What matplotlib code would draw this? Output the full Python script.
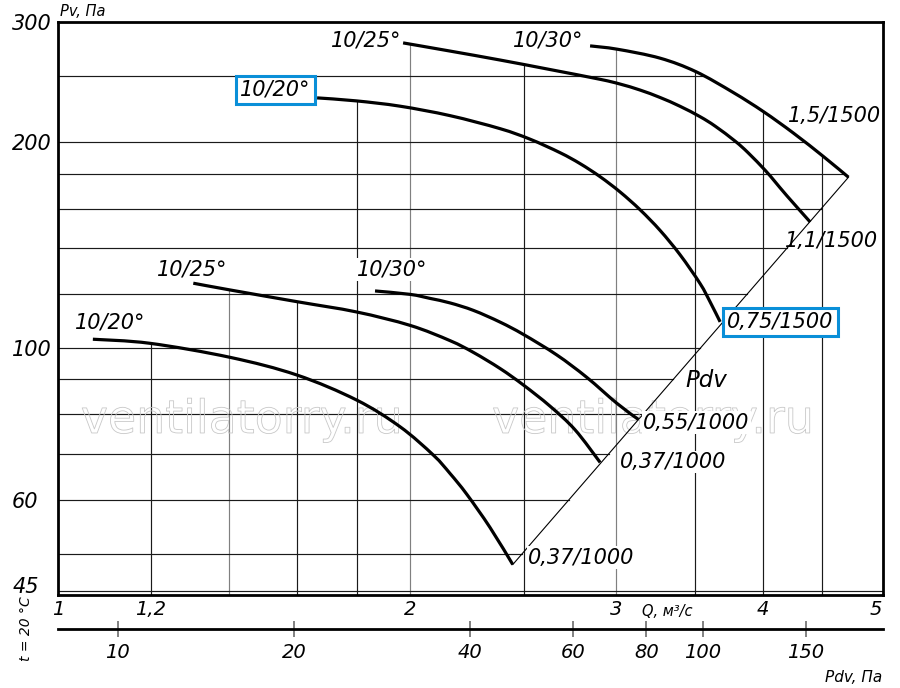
import numpy as np
import matplotlib
matplotlib.use("Agg")
import matplotlib.pyplot as plt
import matplotlib.patheffects as pe
from matplotlib.path import Path
from matplotlib.patches import PathPatch
from matplotlib.ticker import NullLocator

# ---------------- data ----------------
# 1500 rpm curves
q_a = [1.665, 1.797, 1.960, 2.163, 2.387, 2.532, 2.686, 2.794, 2.906, 3.022, 3.144, 3.270, 3.401, 3.538, 3.608, 3.680]
p_a = [232.3, 230.0, 225.9, 218.8, 209.4, 202.1, 193.1, 186.1, 178.1, 169.2, 159.3, 148.6, 136.9, 124.2, 116.8, 109.2]
q_b = [1.972, 2.163, 2.387, 2.633, 2.906, 3.022, 3.144, 3.270, 3.401, 3.538, 3.644, 3.790, 3.888, 4.021, 4.100, 4.198, 4.393]
p_b = [279.6, 272.0, 263.9, 255.6, 247.3, 243.4, 238.5, 232.6, 225.8, 218.0, 211.2, 200.8, 193.1, 182.0, 175.1, 166.9, 152.9]
q_c = [2.849, 3.006, 3.269, 3.508, 3.777, 4.007, 4.251, 4.510, 4.737]
p_c = [276.8, 273.7, 265.6, 253.8, 236.5, 221.8, 206.3, 190.6, 177.8]
# 1000 rpm curves
q_d = [1.071, 1.198, 1.403, 1.600, 1.800, 1.960, 2.093, 2.163, 2.235, 2.340, 2.447]
p_d = [103.0, 101.6, 96.9, 91.3, 83.9, 76.7, 69.7, 65.5, 61.1, 54.6, 48.2]
q_e = [1.305, 1.403, 1.600, 1.800, 2.000, 2.163, 2.265, 2.387, 2.498, 2.633, 2.766, 2.906]
p_e = [124.4, 121.6, 116.9, 112.9, 107.9, 102.5, 98.5, 93.3, 88.3, 82.2, 75.9, 68.0]
q_f = [1.866, 2.000, 2.079, 2.163, 2.265, 2.387, 2.498, 2.668, 2.830, 3.003, 3.133]
p_f = [121.2, 119.8, 118.2, 116.4, 113.5, 109.1, 104.7, 97.7, 90.6, 83.0, 78.6]

q_ticks = [1, 1.2, 2, 3, 4, 5]
q_tick_labels = ["1", "1,2", "2", "3", "4", "5"]
p_ticks = [45, 60, 100, 200, 300]
p_tick_labels = ["45", "60", "100", "200", "300"]
grid_q = [1.2, 1.4, 1.6, 1.8, 2.0, 2.5, 3.0, 3.5, 4.0, 4.5]
grid_q_gray = [1.4, 2.0, 3.0]
grid_p = [44.1, 50, 60, 70, 80, 90, 100, 120, 140, 160, 180, 200, 250]
pdv_ticks = [10, 20, 40, 60, 80, 100, 150]
PDV_COEF = 7.9  # Pdv = PDV_COEF * Q^2

XMIN, XMAX = 1.0, 5.07
YMIN, YMAX = 43.5, 300.0

# ---------------- figure ----------------
plt.rcParams["font.family"] = ["DejaVu Sans"]
plt.rcParams["font.style"] = "italic"

fig = plt.figure(figsize=(9, 6.88), dpi=100)
ax = fig.add_axes([58 / 900, 93 / 688, 825 / 900, 573 / 688])
ax.set_xscale("log")
ax.set_yscale("log")
ax.set_xlim(XMIN, XMAX)
ax.set_ylim(YMIN, YMAX)

curves = [(q_a, p_a), (q_b, p_b), (q_c, p_c), (q_d, p_d), (q_e, p_e), (q_f, p_f)]
lg = np.log10


def interp_ll(x, xs, ys):
    return 10 ** np.interp(lg(x), lg(np.asarray(xs)), lg(np.asarray(ys)))


def top_env(q):
    vals = [interp_ll(q, qs, ps) for qs, ps in curves if qs[0] <= q <= qs[-1]]
    return max(vals) if vals else YMAX


def right_env(p):
    if p >= p_c[-1]:
        return interp_ll(p, p_c[::-1], q_c[::-1])
    if p >= p_d[-1]:
        return interp_ll(p, [p_d[-1], p_c[-1]], [q_d[-1], q_c[-1]])
    return XMAX


def smooth_path(xs, ys):
    """Catmull-Rom curve through the points, built in log-log space."""
    P = np.column_stack([lg(np.asarray(xs)), lg(np.asarray(ys))])
    n = len(P)
    verts = [P[0]]
    codes = [Path.MOVETO]
    for i in range(n - 1):
        p0 = P[i - 1] if i > 0 else P[i]
        p1, p2 = P[i], P[i + 1]
        p3 = P[i + 2] if i + 2 < n else P[i + 1]
        verts += [p1 + (p2 - p0) / 6.0, p2 - (p3 - p1) / 6.0, p2]
        codes += [Path.CURVE4] * 3
    return Path(10 ** np.array(verts), codes)


for q in grid_q:
    col = "#808080" if q in grid_q_gray else "#1a1a1a"
    ax.plot([q, q], [YMIN, top_env(q)], color=col, lw=0.85, zorder=1)
for p in grid_p:
    ax.plot([XMIN, right_env(p)], [p, p], color="#1a1a1a", lw=0.85, zorder=1)

# Pdv line joining curve ends
ax.plot([q_d[-1], q_c[-1]], [p_d[-1], p_c[-1]], color="black", lw=0.8, zorder=2.5)

for qs, ps in curves:
    ax.add_patch(PathPatch(smooth_path(qs, ps), facecolor="none", edgecolor="black",
                           lw=2.3, joinstyle="round", capstyle="butt", zorder=3))

# watermark (outlined text)
for qx in (1.436, 3.225):
    ax.text(qx, 75.1, "ventilatorry.ru", fontsize=33, family="DejaVu Sans",
            style="normal", color="none", ha="center", va="baseline",
            path_effects=[pe.Stroke(linewidth=0.6, foreground="#c8c8c8")], zorder=1.6)

white = dict(facecolor="white", edgecolor="none", pad=1.0)
blue = dict(boxstyle="square,pad=0.2", facecolor="white", edgecolor="#0a8fd8", linewidth=2.2)
labels = [
    ("10/25°", 1.964, 281.5, "right", white, 15),
    ("10/30°", 2.810, 281.5, "right", white, 15),
    ("10/20°", 1.533, 238.7, "center", blue, 15),
    ("1,5/1500", 4.206, 218.6, "left", None, 15),
    ("1,1/1500", 4.182, 143.4, "left", None, 15),
    ("0,75/1500", 3.731, 109.1, "left", blue, 15),
    ("Pdv", 3.435, 89.5, "left", None, 16.5),
    ("0,55/1000", 3.162, 77.7, "left", white, 15),
    ("0,37/1000", 3.022, 68.1, "left", white, 15),
    ("0,37/1000", 2.522, 49.3, "left", white, 15),
    ("10/20°", 1.034, 109.1, "left", white, 15),
    ("10/25°", 1.215, 130.1, "left", white, 15),
    ("10/30°", 1.801, 130.1, "left", white, 15),
]
for txt, qx, py, ha, box, fs in labels:
    ax.text(qx, py, txt, fontsize=fs, ha=ha, va="center", bbox=box, zorder=4)

# axes ticks
ax.set_xticks(q_ticks, labels=q_tick_labels)
ax.set_yticks(p_ticks, labels=p_tick_labels)
ax.xaxis.set_minor_locator(NullLocator())
ax.yaxis.set_minor_locator(NullLocator())
ax.tick_params(axis="x", length=0, pad=3.5, labelsize=14)
ax.tick_params(axis="y", length=0, pad=33, labelsize=15)
for lab in ax.get_yticklabels():
    lab.set_horizontalalignment("left")
for s in ax.spines.values():
    s.set_linewidth(2.0)
    s.set_zorder(5)


def q_to_pdv(q):
    return PDV_COEF * np.asarray(q, dtype=float) ** 2


def pdv_to_q(v):
    return np.sqrt(np.clip(np.asarray(v, dtype=float), 1e-12, None) / PDV_COEF)


sec = ax.secondary_xaxis(-0.0593, functions=(q_to_pdv, pdv_to_q))
sec.set_xticks(pdv_ticks, labels=[str(v) for v in pdv_ticks])
sec.xaxis.set_minor_locator(NullLocator())
sec.tick_params(direction="inout", length=12, width=1.3, color="#777777", pad=4, labelsize=14)
sec.spines["bottom"].set_linewidth(2.0)

fig.text(60 / 900, 1 - 11 / 688, "Pv, Па", fontsize=10.5, ha="left", va="center")
fig.text(667 / 900, 1 - 611 / 688, "Q, м³/с", fontsize=10.5, ha="center", va="center")
fig.text(882 / 900, 1 - 678 / 688, "Pdv, Па", fontsize=11, ha="right", va="center")
fig.text(26 / 900, 1 - 629 / 688, "t = 20 °C", fontsize=10, ha="center", va="center", rotation=90)

fig.savefig("out.png", dpi=100, facecolor="white")
